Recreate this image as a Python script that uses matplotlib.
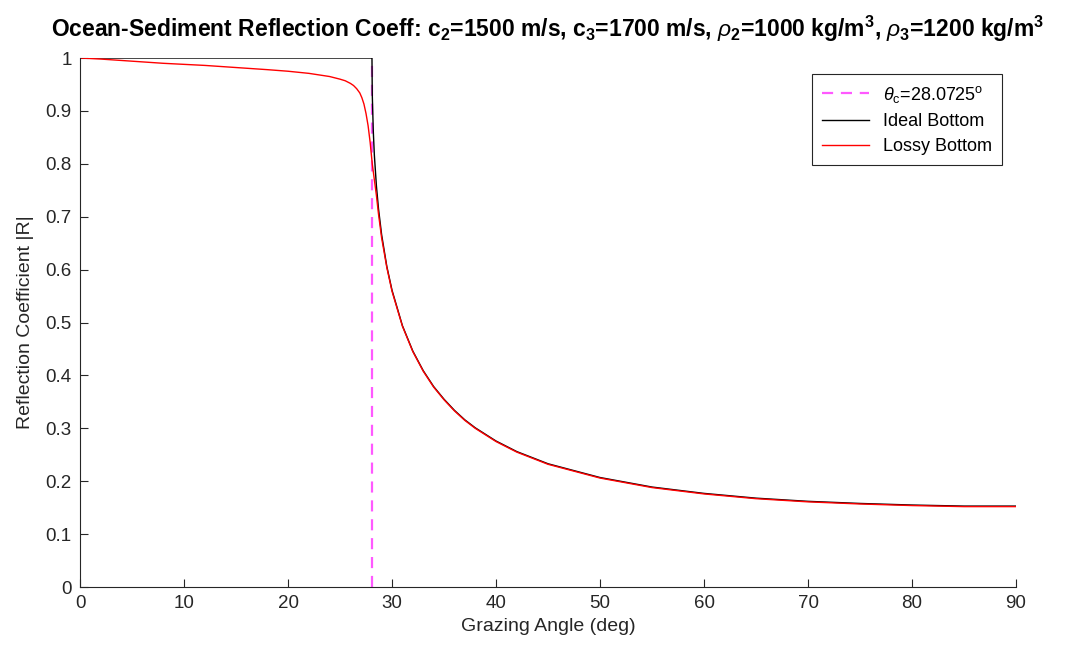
import matplotlib
matplotlib.use("Agg")
import matplotlib.pyplot as plt

plt.rcParams['font.family'] = ['Liberation Sans', 'DejaVu Sans']
plt.rcParams['mathtext.fontset'] = 'custom'
plt.rcParams['mathtext.rm'] = 'Liberation Sans'
plt.rcParams['mathtext.it'] = 'Liberation Sans:italic'
plt.rcParams['mathtext.bf'] = 'Liberation Sans:bold'

# critical angle (deg)
theta_c = 28.0725

# ideal bottom
ideal_ang = [0, 10, 20, 28.0725, 28.1, 28.2, 28.3, 28.5, 28.7, 29, 29.5, 30, 31, 32, 33, 34,
             35, 36, 37, 38, 40, 42, 45, 50, 55, 60, 65, 70, 75, 80, 85, 90]
ideal_R = [1.0, 1.0, 1.0, 1.0, 0.932, 0.861, 0.817, 0.758, 0.715, 0.666, 0.606, 0.561,
           0.494, 0.446, 0.409, 0.379, 0.355, 0.334, 0.316, 0.301, 0.276, 0.256, 0.233,
           0.207, 0.189, 0.177, 0.168, 0.162, 0.158, 0.155, 0.153, 0.153]

# lossy bottom
lossy_ang = [0, 2, 5, 8, 10, 12, 15, 18, 20, 22, 23, 24, 25, 25.5, 26, 26.3, 26.6, 26.9,
             27.1, 27.3, 27.5, 27.7, 27.9, 28.1, 28.3, 28.5, 28.7, 29, 29.5, 30, 31, 32,
             33, 34, 35, 36, 37, 38, 40, 42, 45, 50, 55, 60, 65, 70, 75, 80, 85, 90]
lossy_R = [1.0, 0.998, 0.994, 0.990, 0.988, 0.986, 0.982, 0.978, 0.975, 0.971, 0.968,
           0.965, 0.960, 0.957, 0.952, 0.948, 0.942, 0.934, 0.925, 0.913, 0.895, 0.872,
           0.840, 0.800, 0.770, 0.740, 0.705, 0.660, 0.604, 0.559, 0.493, 0.445, 0.408,
           0.378, 0.354, 0.333, 0.315, 0.300, 0.275, 0.255, 0.232, 0.206, 0.188, 0.176,
           0.167, 0.161, 0.157, 0.154, 0.152, 0.152]

fig = plt.figure(figsize=(10.71, 6.54), dpi=100)
ax = fig.add_axes([0.0747, 0.1024, 0.874, 0.8089])

ax.plot([theta_c, theta_c], [0, 1], '--', color=(1, 0.35, 1), lw=1.6, dashes=(5, 3.5),
        label=r'$\theta_\mathrm{c}$=28.0725$^\mathrm{o}$')
ax.plot(ideal_ang, ideal_R, color='k', lw=1.0, label='Ideal Bottom')
ax.plot(lossy_ang, lossy_R, color='r', lw=1.0, label='Lossy Bottom')

ax.set_xlim(0, 90)
ax.set_ylim(0, 1)
ax.set_xticks(range(0, 91, 10))
ax.set_yticks([i / 10 for i in range(11)])
ax.set_yticklabels(['0', '0.1', '0.2', '0.3', '0.4', '0.5', '0.6', '0.7', '0.8', '0.9', '1'])
ax.spines['top'].set_visible(False)
ax.spines['right'].set_visible(False)
for s in ['left', 'bottom']:
    ax.spines[s].set_color('#262626')
    ax.spines[s].set_linewidth(0.8)
ax.tick_params(direction='in', length=6, width=0.8, colors='#262626', labelsize=13.5, pad=6)

ax.set_xlabel('Grazing Angle (deg)', fontsize=14, color='#262626', labelpad=4)
ax.set_ylabel('Reflection Coefficient |R|', fontsize=14, color='#262626', labelpad=8)
ax.set_title(r'Ocean-Sediment Reflection Coeff: c$_\mathbf{2}$=1500 m/s, c$_\mathbf{3}$=1700 m/s, '
             r'$\rho_\mathbf{2}$=1000 kg/m$^\mathbf{3}$, $\rho_\mathbf{3}$=1200 kg/m$^\mathbf{3}$',
             fontsize=16.5, fontweight='bold', pad=15)

leg = ax.legend(loc='upper right', bbox_to_anchor=(0.985, 0.97), fontsize=13, fancybox=False,
                framealpha=1, edgecolor='#262626', borderpad=0.55, handlelength=2.6,
                labelspacing=0.45, borderaxespad=0)
leg.get_frame().set_linewidth(0.8)

fig.savefig('out.png', dpi=100)
